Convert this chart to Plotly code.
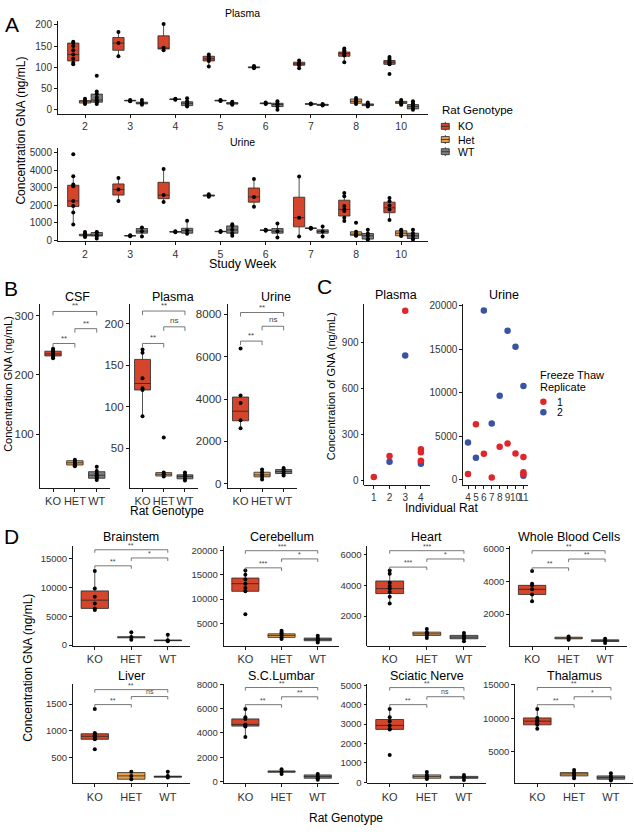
import plotly.graph_objects as go

# ---------------------------------------------------------------- data
GENO = ["KO", "Het", "WT"]
A_weeks = ["2", "3", "4", "5", "6", "7", "8", "10"]
# box stats: [lower whisker, q1, median, q3, upper whisker]
A_plasma_KO_box = [[105, 115, 130, 157, 160], [126, 140, 157, 170, 183], [140, 143, 145, 174, 202],
                   [102, 115, 120, 126, 130], [98, 99, 100, 101, 103], [98, 105, 108, 112, 116],
                   [112, 126, 132, 136, 144], [107, 107, 112, 116, 124]]
A_plasma_KO_pts = [[160, 157, 150, 140, 130, 120, 111, 107], [183, 157, 126], [202, 146, 140],
                   [130, 125, 120, 115, 102], [103, 101, 100, 98], [116, 110, 108, 105, 98],
                   [144, 140, 136, 132, 128, 112], [124, 120, 116, 112, 108, 107, 84]]
A_plasma_Het_box = [[14, 16, 19, 22, 26], [20, 21, 22, 22.5, 23], [24, 24.5, 25, 25.5, 26],
                    [20, 21, 22, 22.5, 23], [13, 14.5, 15.5, 16, 17], [12, 13, 14, 14.5, 15],
                    [14, 15.5, 20, 25.6, 28], [12, 15, 17.8, 20, 23]]
A_plasma_Het_pts = [[26, 22, 19, 16, 14], [23, 21, 20], [26, 25, 24], [23, 22, 21], [17, 15, 14],
                    [15, 14, 13], [28, 24, 20, 16, 14], [23, 19, 17, 14, 12]]
A_plasma_WT_box = [[14, 18, 23, 37, 43], [12, 14, 16, 18, 23], [8, 10, 15.5, 19, 27],
                   [12, 13.5, 15.5, 17, 19], [0, 7.7, 12.4, 15.5, 20], [9, 10.5, 12, 13, 14],
                   [8, 10, 12, 14, 17], [0, 2.3, 7.8, 12.4, 20]]
A_plasma_WT_pts = [[80, 43, 37, 29, 23, 22, 18, 14], [23, 17, 15, 12], [27, 20, 15, 10, 8],
                   [19, 16, 14, 12], [20, 15, 12, 8, 0], [14, 12, 10], [17, 14, 12, 10, 8],
                   [20, 15, 10, 5, 0]]

A_urine_KO_box = [[900, 1922, 2239, 3134, 3640], [2240, 2575, 2890, 3210, 3545], [2180, 2370, 2575, 3300, 4050],
                  [2480, 2520, 2545, 2580, 2620], [1910, 2173, 2472, 2978, 3483], [225, 770, 1292, 2455, 3633],
                  [1100, 1385, 1760, 2285, 2700], [1160, 1573, 1854, 2173, 2416]]
A_urine_KO_pts = [[4900, 3640, 3170, 3080, 2240, 1960, 1590, 900], [3545, 2890, 2240], [4050, 2575, 2180],
                  [2620, 2545, 2480], [3483, 2472, 1910], [3633, 1292, 225],
                  [2700, 2510, 1950, 1760, 1670, 1290, 1100], [2416, 2230, 1985, 1760, 1160]]
A_urine_Het_box = [[200, 260, 300, 350, 480], [240, 255, 264, 275, 290], [460, 475, 489, 500, 515],
                   [480, 495, 506, 520, 535], [550, 565, 580, 595, 610], [660, 680, 693, 705, 720],
                   [264, 290, 355, 490, 600], [250, 264, 412, 545, 600]]
A_urine_Het_pts = [[480, 400, 300, 250, 200], [290, 264, 240], [515, 489, 460], [535, 506, 480],
                   [610, 580, 550], [720, 693, 660], [1010, 490, 355, 290, 264], [600, 545, 412, 300, 250]]
A_urine_WT_box = [[112, 250, 300, 450, 482], [230, 412, 528, 674, 730], [373, 410, 560, 690, 1120],
                  [264, 412, 600, 824, 918], [170, 412, 528, 674, 955], [225, 412, 506, 600, 787],
                  [50, 75, 264, 393, 600], [50, 112, 264, 412, 600]]
A_urine_WT_pts = [[482, 450, 300, 250, 112], [730, 528, 230], [1120, 560, 373], [918, 824, 600, 412, 264],
                  [955, 528, 170], [787, 506, 225], [600, 393, 264, 75, 50], [600, 412, 264, 112, 50]]

B_geno = ["KO", "HET", "WT"]
B_csf_box = [[228, 232, 235.5, 240, 244], [46, 48.3, 52, 55.5, 57], [23, 26, 31, 37, 45.5]]
B_csf_pts = [[244, 241, 238, 235.5, 234, 231, 228], [57, 55, 52, 50, 48, 46], [45.5, 38, 34, 31, 29, 26, 23]]
B_csf_sig_y = [253, 278, 307]
B_csf_sig = ["**", "**", "**"]
B_plasma_box = [[88.5, 120, 127.8, 156.8, 168.7], [15.8, 16.5, 18.6, 20.6, 21.5], [11, 13.1, 15.8, 17.9, 20.6]]
B_plasma_pts = [[168.7, 164.7, 134, 122, 120, 88.5], [62.7, 20.6, 18.6, 15.8], [20.6, 17.9, 15.8, 13.1, 11]]
B_plasma_sig_y = [176, 196, 215]
B_plasma_sig = ["**", "ns", "**"]
B_urine_box = [[2617, 2975, 3427, 4097, 4174], [200, 327, 420, 545, 670], [389, 483, 576, 670, 748]]
B_urine_pts = [[6386, 4174, 3816, 3006, 2617], [670, 545, 420, 327, 200], [748, 670, 576, 483, 389]]
B_urine_sig_y = [6740, 7440, 8090]
B_urine_sig = ["**", "ns", "**"]

C_plasma_rats = ["1", "2", "3", "4"]
C_plasma_rep1_rat = ["1", "2", "3", "4", "4", "4"]
C_plasma_rep1_val = [24, 160, 1105, 205, 185, 130]
C_plasma_rep2_rat = ["2", "3", "4", "4"]
C_plasma_rep2_val = [124, 814, 125, 110]
C_urine_rats = ["4", "5", "6", "7", "8", "9", "10", "11"]
C_urine_rep1_rat = ["4", "5", "6", "7", "8", "9", "10", "11", "11", "11"]
C_urine_rep1_val = [680, 6380, 3000, 270, 3800, 4180, 3040, 2620, 870, 680]
C_urine_rep2_rat = ["4", "5", "6", "7", "8", "9", "10", "11", "11"]
C_urine_rep2_val = [4290, 2540, 19475, 6490, 9680, 17160, 15300, 10780, 460]

D_tissues = ["Brainstem", "Cerebellum", "Heart", "Whole Blood Cells",
             "Liver", "S.C.Lumbar", "Sciatic Nerve", "Thalamus"]
D_box = {
    "Brainstem": [[6086, 6379, 7816, 9431, 12880], [920, 1250, 1380, 1420, 2240], [640, 750, 810, 850, 1780]],
    "Cerebellum": [[11600, 11602, 13178, 14344, 15900], [1720, 2067, 2476, 2800, 3420], [1000, 1371, 1650, 1923, 2400]],
    "Heart": [[2819, 3465, 3787, 4284, 4968], [561, 735, 839, 948, 1161], [348, 516, 626, 735, 884]],
    "Whole Blood Cells": [[2788, 3194, 3515, 3758, 3860], [426, 480, 527, 580, 628], [222, 320, 364, 420, 485]],
    "Liver": [[840, 840, 896, 944, 957], [93, 93, 155, 217, 235], [124, 130, 143, 150, 235]],
    "S.C.Lumbar": [[3661, 4556, 4695, 5150, 5964], [620, 760, 814, 870, 1000], [135, 271, 407, 542, 610]],
    "Sciatic Nerve": [[2724, 2724, 2928, 3234, 3776], [160, 204, 291, 377, 530], [120, 200, 255, 300, 370]],
    "Thalamus": [[8431, 9015, 9559, 10044, 11368], [1078, 1422, 1716, 1912, 2304], [735, 931, 1176, 1422, 1814]],
}
D_pts = {
    "Brainstem": [[12880, 9828, 8390, 7241, 6379, 6086], [2240, 1380, 920], [1780, 810, 640]],
    "Cerebellum": [[15900, 15020, 14060, 13178, 12300, 11600, 6834], [3420, 3100, 2800, 2476, 2067, 1720], [2400, 1923, 1650, 1371, 1000]],
    "Heart": [[4968, 4755, 4174, 3961, 3787, 3574, 3252, 2819], [1161, 948, 839, 735, 561], [884, 735, 626, 516, 348]],
    "Whole Blood Cells": [[4630, 3860, 3758, 3515, 3194, 2788], [628, 527, 426], [485, 364, 222]],
    "Liver": [[1407, 957, 944, 914, 896, 883, 852, 840, 655], [235, 155, 93], [235, 155, 124]],
    "S.C.Lumbar": [[5964, 5289, 5150, 4695, 4556, 4532, 3661], [1000, 814, 620], [610, 407, 271, 135]],
    "Sciatic Nerve": [[3776, 3352, 3148, 2928, 2750, 2724, 1398], [530, 377, 291, 204, 160], [370, 255, 120]],
    "Thalamus": [[11368, 10044, 9657, 9559, 9265, 9015, 8431], [2304, 1912, 1716, 1422, 1078], [1814, 1422, 1176, 931, 735]],
}
# significance brackets: KO-HET, HET-WT, KO-WT
D_sig_y = {
    "Brainstem": [13800, 15170, 16600], "Cerebellum": [16450, 18300, 20000],
    "Heart": [5190, 5720, 6260], "Whole Blood Cells": [4830, 5370, 5880],
    "Liver": [1490, 1640, 1770], "S.C.Lumbar": [6320, 6970, 7730],
    "Sciatic Nerve": [4000, 4410, 4880], "Thalamus": [12010, 13190, 14560],
}
D_sig = {
    "Brainstem": ["**", "*", "**"], "Cerebellum": ["***", "*", "***"],
    "Heart": ["***", "*", "***"], "Whole Blood Cells": ["**", "**", "**"],
    "Liver": ["**", "ns", "**"], "S.C.Lumbar": ["**", "**", "**"],
    "Sciatic Nerve": ["**", "ns", "**"], "Thalamus": ["**", "*", "**"],
}
D_yticks = {
    "Brainstem": [0, 5000, 10000, 15000], "Cerebellum": [5000, 10000, 15000, 20000],
    "Heart": [2000, 4000, 6000], "Whole Blood Cells": [2000, 4000, 6000],
    "Liver": [500, 1000, 1500], "S.C.Lumbar": [0, 2000, 4000, 6000, 8000],
    "Sciatic Nerve": [0, 1000, 2000, 3000, 4000, 5000], "Thalamus": [5000, 10000, 15000],
}

# ---------------------------------------------------------------- style / layout helpers
W, H = 634, 832
FONT = "Liberation Sans"
COLORS = {"KO": "#D4452B", "Het": "#E8A04C", "WT": "#7E7E7E"}
BOX_LINE = "#262626"
TICK_COL = "#333333"
REP_COLORS = ["#E0262A", "#3A53A4"]

fig = go.Figure()
layout = {}
ann = []
shapes = []
counter = [0]


def new_axes(xd, yd, xr, yr, xtv, xtt, ytv, xfs, yfs):
    counter[0] += 1
    n = counter[0]
    s = "" if n == 1 else str(n)
    common = dict(showline=True, linecolor="black", linewidth=0.9, ticks="outside", ticklen=3,
                  tickwidth=0.9, tickcolor="black", showgrid=False, zeroline=False, fixedrange=True)
    layout["xaxis" + s] = dict(domain=[xd[0] / W, xd[1] / W], anchor="y" + s, range=xr,
                               tickmode="array", tickvals=xtv, ticktext=xtt, tickangle=0,
                               tickfont=dict(size=xfs, color=TICK_COL, family=FONT), **common)
    layout["yaxis" + s] = dict(domain=[1 - yd[1] / H, 1 - yd[0] / H], anchor="x" + s, range=yr,
                               tickmode="array", tickvals=ytv, ticktext=[str(v) for v in ytv],
                               tickfont=dict(size=yfs, color=TICK_COL, family=FONT), **common)
    return "x" + s, "y" + s


def add_boxes(xa, ya, pos, stats, color, width):
    fig.add_trace(go.Box(x=pos, lowerfence=[s[0] for s in stats], q1=[s[1] for s in stats],
                         median=[s[2] for s in stats], q3=[s[3] for s in stats],
                         upperfence=[s[4] for s in stats], fillcolor=color,
                         line=dict(color=BOX_LINE, width=0.8), width=width, whiskerwidth=0,
                         boxpoints=False, xaxis=xa, yaxis=ya, showlegend=False, hoverinfo="skip"))


def add_points(xa, ya, pos, pts, size=4):
    xs, ys = [], []
    for p, pl in zip(pos, pts):
        xs += [p] * len(pl)
        ys += pl
    fig.add_trace(go.Scatter(x=xs, y=ys, mode="markers", marker=dict(color="black", size=size),
                             xaxis=xa, yaxis=ya, showlegend=False, hoverinfo="skip"))


def add_brackets(xa, ya, ys, labels, tip, fs):
    pairs = [(0, 1), (1, 2), (0, 2)]
    xs, yy = [], []
    for (a, b), y in zip(pairs, ys):
        xs += [a, a, b, b, None]
        yy += [y - tip, y, y, y - tip, None]
    fig.add_trace(go.Scatter(x=xs, y=yy, mode="lines", line=dict(color="#555555", width=0.8),
                             xaxis=xa, yaxis=ya, showlegend=False, hoverinfo="skip"))
    for (a, b), y, lab in zip(pairs, ys, labels):
        ann.append(dict(x=(a + b) / 2, y=y, xref=xa, yref=ya, text=lab, showarrow=False,
                        yanchor="bottom", yshift=-1 if lab != "ns" else 0,
                        font=dict(size=fs, color="#444444", family=FONT)))


def text(x, y, s, size, angle=0, anchor="center", color="black"):
    ann.append(dict(x=x / W, y=1 - y / H, xref="paper", yref="paper", text=s, showarrow=False,
                    textangle=angle, xanchor=anchor, yanchor="middle",
                    font=dict(size=size, color=color, family=FONT)))


# ---------------------------------------------------------------- panel A
offs = {"KO": -0.26, "Het": 0.0, "WT": 0.26}
A_data = {
    "plasma": ([15.7, 110], [-9.3, 210], [0, 50, 100, 150, 200],
               {"KO": (A_plasma_KO_box, A_plasma_KO_pts), "Het": (A_plasma_Het_box, A_plasma_Het_pts),
                "WT": (A_plasma_WT_box, A_plasma_WT_pts)}),
    "urine": ([145, 239], [-56, 5225], [0, 1000, 2000, 3000, 4000, 5000],
              {"KO": (A_urine_KO_box, A_urine_KO_pts), "Het": (A_urine_Het_box, A_urine_Het_pts),
               "WT": (A_urine_WT_box, A_urine_WT_pts)}),
}
for key, (yd, yr, ytv, groups) in A_data.items():
    xa, ya = new_axes([58, 429], yd, [-0.6, len(A_weeks) - 0.4], yr,
                      list(range(len(A_weeks))), A_weeks, ytv, 10.5, 10)
    for g in GENO:
        box, pts = groups[g]
        pos = [i + offs[g] for i in range(len(A_weeks))]
        add_boxes(xa, ya, pos, box, COLORS[g], 0.25)
        add_points(xa, ya, pos, pts, 4)

text(243, 8, "Plasma", 10.5)
text(243, 138, "Urine", 10.5)
text(243, 262, "Study Week", 12.5)
text(21, 127, "Concentration GNA (ng/mL)", 12, angle=-90)
text(3, 20, "A", 21, anchor="left")

# legend A (manual)
text(441, 106.5, "Rat Genotype", 11.5, anchor="left")
for g, yc in zip(GENO, [122.7, 136, 148.3]):
    shapes.append(dict(type="line", xref="paper", yref="paper", x0=446 / W, x1=446 / W,
                       y0=1 - (yc - 4.5) / H, y1=1 - (yc + 4.5) / H, line=dict(color=BOX_LINE, width=0.8)))
    shapes.append(dict(type="rect", xref="paper", yref="paper", x0=442 / W, x1=450 / W,
                       y0=1 - (yc - 3) / H, y1=1 - (yc + 3) / H, fillcolor=COLORS[g],
                       line=dict(color=BOX_LINE, width=0.8)))
    shapes.append(dict(type="line", xref="paper", yref="paper", x0=442 / W, x1=450 / W,
                       y0=1 - yc / H, y1=1 - yc / H, line=dict(color=BOX_LINE, width=0.8)))
    text(457, yc, g, 10.5, anchor="left")

# ---------------------------------------------------------------- panel B
B_panels = [
    ("CSF", [40, 110], [10, 320], [100, 200, 300], B_csf_box, B_csf_pts, B_csf_sig_y, B_csf_sig, 78),
    ("Plasma", [130, 198], [2.4, 223.8], [50, 100, 150, 200], B_plasma_box, B_plasma_pts, B_plasma_sig_y, B_plasma_sig, 173),
    ("Urine", [228, 297], [-187, 8505], [0, 2000, 4000, 6000, 8000], B_urine_box, B_urine_pts, B_urine_sig_y, B_urine_sig, 276),
]
for title, xd, yr, ytv, box, pts, sy, sl, tx in B_panels:
    xa, ya = new_axes(xd, [302, 488], [-0.6, 2.6], yr, [0, 1, 2], B_geno, ytv, 11, 11.5)
    for i, g in enumerate(GENO):
        add_boxes(xa, ya, [i], [box[i]], COLORS[g], 0.75)
        add_points(xa, ya, [i], [pts[i]], 4)
    add_brackets(xa, ya, sy, sl, 0.022 * (yr[1] - yr[0]), 8)
    text(tx, 295, title, 12.5)

text(167, 512, "Rat Genotype", 12)
text(8, 383, "Concentration GNA (ng/mL)", 11, angle=-90)
text(2, 287, "B", 21, anchor="left")

# ---------------------------------------------------------------- panel C
C_panels = [
    ("Plasma", [365, 431], [-26, 1150], [0, 300, 600, 900], C_plasma_rats,
     (C_plasma_rep1_rat, C_plasma_rep1_val), (C_plasma_rep2_rat, C_plasma_rep2_val), 397),
    ("Urine", [464, 529], [-570, 20260], [0, 5000, 10000, 15000, 20000], C_urine_rats,
     (C_urine_rep1_rat, C_urine_rep1_val), (C_urine_rep2_rat, C_urine_rep2_val), 505),
]
for title, xd, yr, ytv, cats, rep1, rep2, tx in C_panels:
    xa, ya = new_axes(xd, [302, 485], [-0.6, len(cats) - 0.4], yr, list(range(len(cats))), cats,
                      ytv, 10, 10)
    for (rats, vals), col in zip([rep2, rep1], [REP_COLORS[1], REP_COLORS[0]]):
        fig.add_trace(go.Scatter(x=[cats.index(r) for r in rats], y=vals, mode="markers",
                                 marker=dict(color=col, size=6.5), xaxis=xa, yaxis=ya,
                                 showlegend=False, hoverinfo="skip"))
    text(tx, 293, title, 12.5)

text(442, 509, "Individual Rat", 12)
text(331, 385, "Concentration of GNA (ng/mL)", 11, angle=-90)
text(315, 285, "C", 21, anchor="left")
text(539, 374.3, "Freeze Thaw", 11, anchor="left")
text(539, 386.5, "Replicate", 11, anchor="left")
for lab, col, yc in zip(["1", "2"], REP_COLORS, [401, 411.7]):
    shapes.append(dict(type="circle", xref="paper", yref="paper", x0=541 / W, x1=547.5 / W,
                       y0=1 - (yc - 3.25) / H, y1=1 - (yc + 3.25) / H, fillcolor=col,
                       line=dict(color=col, width=0)))
    text(556, yc, lab, 10.5, anchor="left")

# ---------------------------------------------------------------- panel D
D_xdom = [[73, 190], [224, 340], [368, 487], [511, 628],
          [73, 190], [224, 340], [368, 487], [516, 634]]
D_yr = {
    "Brainstem": [-172, 17241], "Cerebellum": [286, 20954], "Heart": [45, 6561],
    "Whole Blood Cells": [42, 6164], "Liver": [13, 1883], "S.C.Lumbar": [-163, 8055],
    "Sciatic Nerve": [-66, 5087], "Thalamus": [294, 15147],
}
for k, t in enumerate(D_tissues):
    yd = [547, 648] if k < 4 else [686, 787]
    xd = D_xdom[k]
    yr = D_yr[t]
    xa, ya = new_axes(xd, yd, [-0.6, 2.6], yr, [0, 1, 2], B_geno, D_yticks[t], 11, 9.5)
    for i, g in enumerate(GENO):
        add_boxes(xa, ya, [i], [D_box[t][i]], COLORS[g], 0.75)
        add_points(xa, ya, [i], [D_pts[t][i]], 4)
    add_brackets(xa, ya, D_sig_y[t], D_sig[t], 0.03 * (yr[1] - yr[0]), 7)
    text((xd[0] + xd[1]) / 2, 538 if k < 4 else 678, t, 12.5)

text(347, 822, "Rat Genotype", 12)
text(28, 670, "Concentration GNA (ng/mL)", 12, angle=-90)
text(2, 537, "D", 21, anchor="left")

# ---------------------------------------------------------------- finish
fig.update_layout(width=W, height=H, margin=dict(l=0, r=0, t=0, b=0), paper_bgcolor="white",
                  plot_bgcolor="white", showlegend=False, boxmode="overlay",
                  font=dict(family=FONT), annotations=ann, shapes=shapes, **layout)
fig.write_html("out.html", config={"displayModeBar": False, "staticPlot": True},
               post_script="document.body.style.margin='0px';document.body.style.overflow='hidden';")
